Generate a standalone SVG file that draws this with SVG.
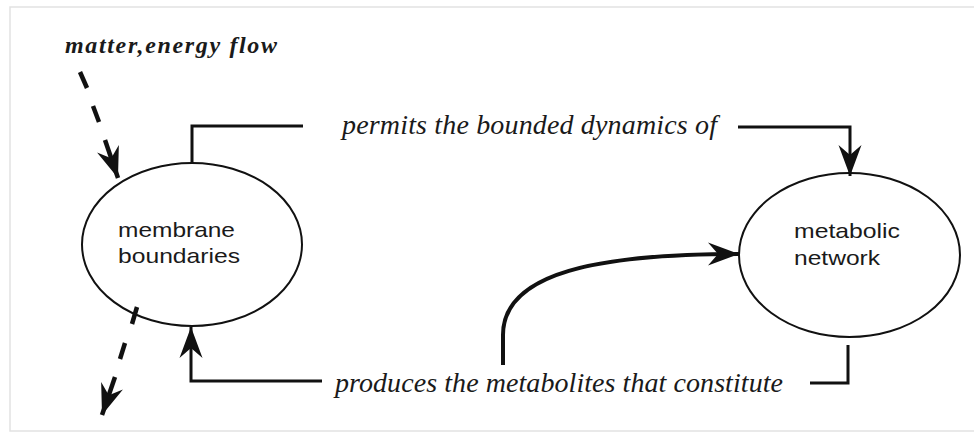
<svg xmlns="http://www.w3.org/2000/svg" width="974" height="434" viewBox="0 0 974 434">
  <style>
    .frame { fill: none; stroke: #e2e2e2; stroke-width: 1.5; }
    .node { fill: none; stroke: #111; stroke-width: 2; }
    .lbl { font-family: "Liberation Sans", Arial, sans-serif; font-size: 21px; fill: #1a1a1a; }
    .it { font-family: "Liberation Serif", "Times New Roman", serif; font-style: italic; font-size: 28px; fill: #1a1a1a; }
    .bi { font-family: "Liberation Serif", "Times New Roman", serif; font-style: italic; font-weight: bold; font-size: 24px; fill: #1a1a1a; }
    .conn { fill: none; stroke: #111; stroke-width: 3; stroke-linecap: butt; stroke-linejoin: miter; }
    .thick { stroke-width: 4; }
    .dash { fill: none; stroke: #111; stroke-width: 4.5; stroke-linecap: butt; }
  </style>
  <defs>
    <marker id="arr" markerUnits="userSpaceOnUse" markerWidth="36" markerHeight="28" viewBox="-34 -14 36 28" refX="0" refY="0" orient="auto">
      <path d="M0,0 L-31,-11.5 L-21,0 L-31,11.5 Z" fill="#111"/>
    </marker>
  </defs>
  <rect width="974" height="434" fill="#fff"/>
  <path class="frame" d="M974,7 H10 V431 H974"/>

  <g id="label-flow">
    <text class="bi" x="65" y="53" textLength="212">matter,energy flow</text>
  </g>

  <g id="membrane">
    <ellipse class="node" cx="192" cy="244.5" rx="110" ry="81.5"/>
    <text class="lbl" x="118" y="237" textLength="117" lengthAdjust="spacingAndGlyphs">membrane</text>
    <text class="lbl" x="118" y="263" textLength="122" lengthAdjust="spacingAndGlyphs">boundaries</text>
  </g>

  <g id="metabolic">
    <ellipse class="node" cx="849.5" cy="255" rx="110.5" ry="82"/>
    <text class="lbl" x="794" y="238" textLength="106" lengthAdjust="spacingAndGlyphs">metabolic</text>
    <text class="lbl" x="794" y="265" textLength="86" lengthAdjust="spacingAndGlyphs">network</text>
  </g>

  <g id="connectors">
    <path class="conn" d="M192,163 V126 H303"/>
    <text class="it" x="342" y="134" textLength="375">permits the bounded dynamics of</text>
    <path class="conn" d="M738,127 H850 V176" marker-end="url(#arr)"/>

    <path class="conn" d="M848,345 V383 H810"/>
    <text class="it" x="335" y="392" textLength="448">produces the metabolites that constitute</text>
    <path class="conn" d="M322,381 H191 V327" marker-end="url(#arr)"/>

    <path class="conn thick" d="M503,365 V335 C503,272 600,254 739,254" marker-end="url(#arr)"/>

    <line class="dash" x1="80" y1="72" x2="87" y2="88"/>
    <line class="dash" x1="93" y1="106" x2="99" y2="122"/>
    <line class="dash" x1="105" y1="140" x2="118" y2="178" marker-end="url(#arr)"/>

    <line class="dash" x1="137" y1="307" x2="132" y2="324"/>
    <line class="dash" x1="125" y1="343" x2="120" y2="359"/>
    <line class="dash" x1="115" y1="377" x2="102" y2="415" marker-end="url(#arr)"/>
  </g>
</svg>
